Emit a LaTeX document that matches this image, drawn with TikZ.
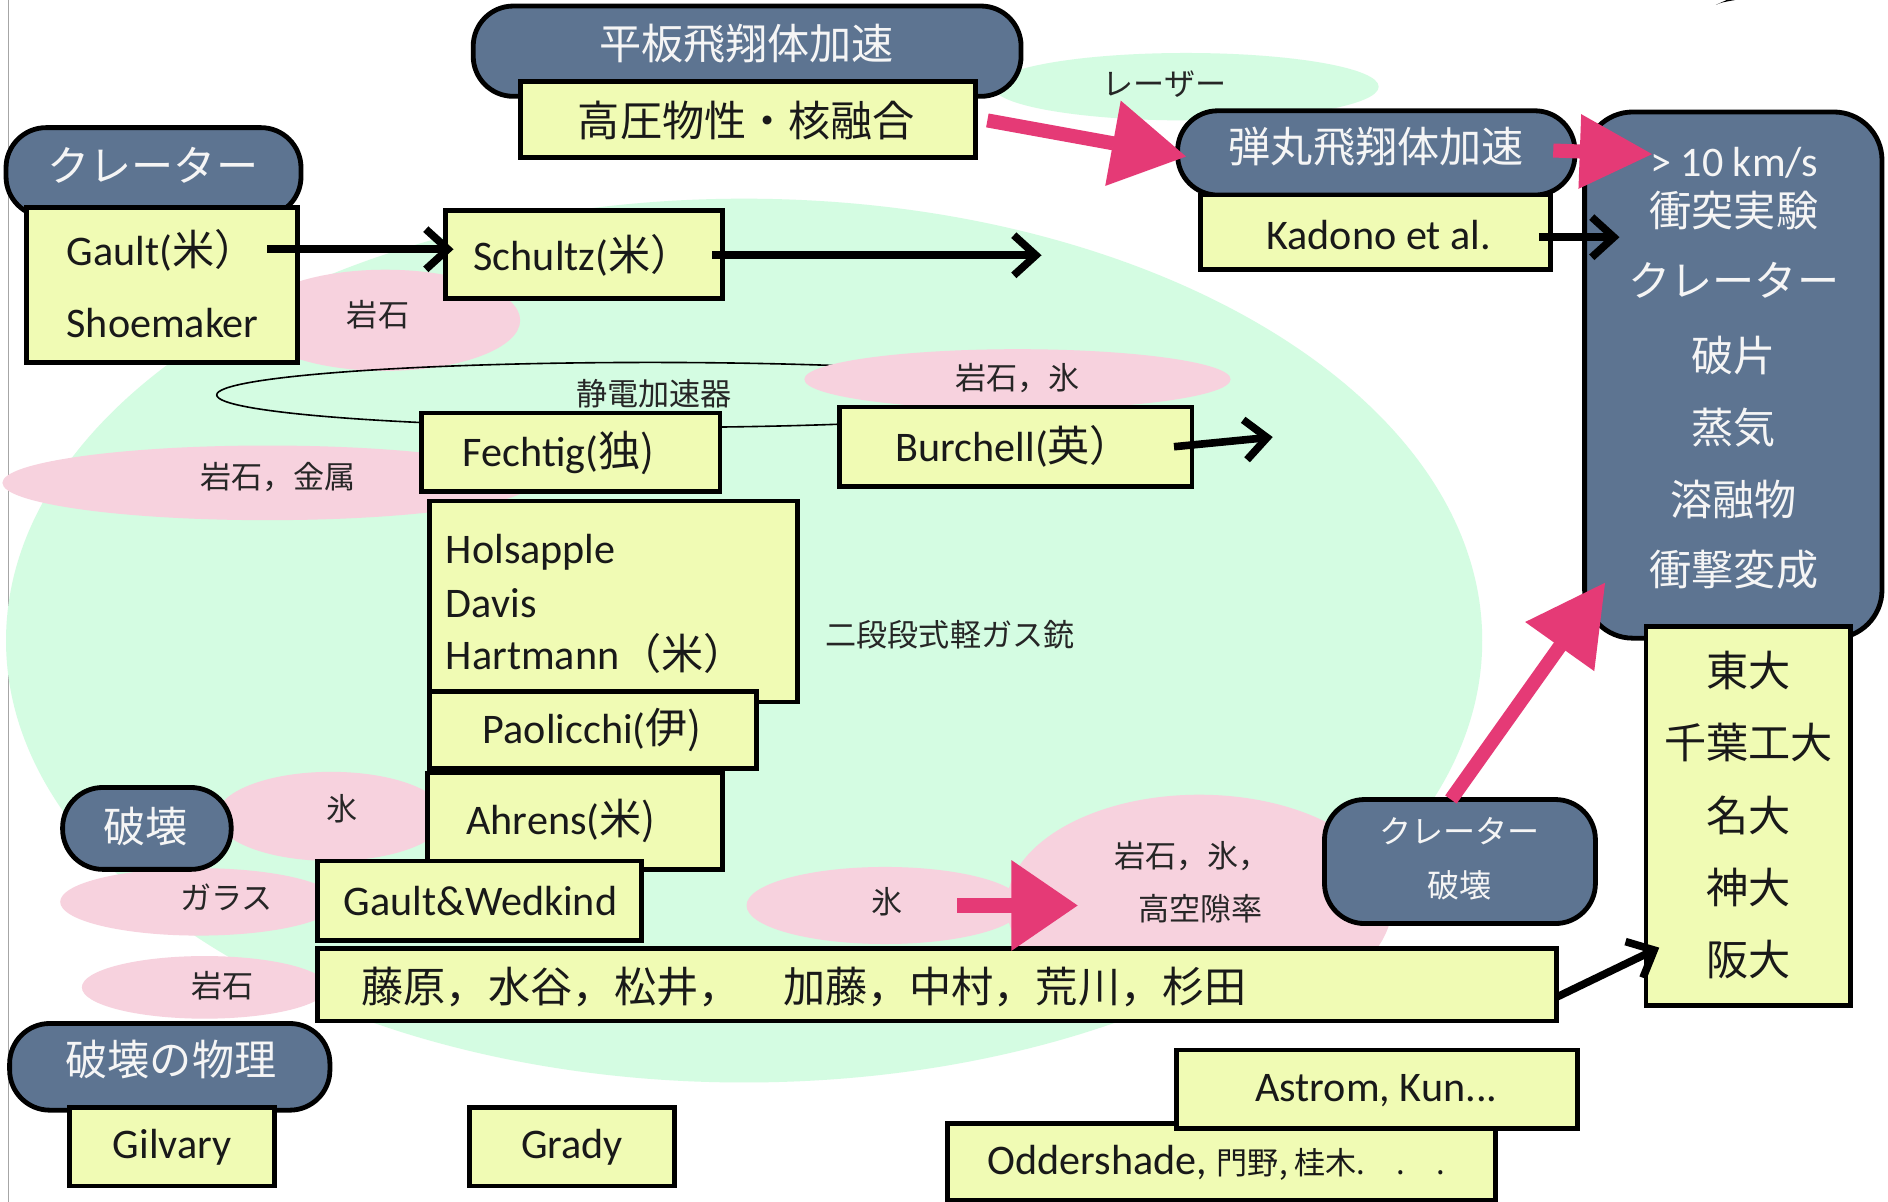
\documentclass[tikz,border=0pt]{standalone}
\usepackage{fontspec}
\setmainfont{Carlito}
\newfontfamily\cj{Noto Sans CJK JP}
\usetikzlibrary{arrows.meta}
\definecolor{hdr}{RGB}{93,116,145}
\definecolor{yel}{RGB}{240,251,180}
\definecolor{mint}{RGB}{212,252,226}
\definecolor{pinkel}{RGB}{247,210,222}
\definecolor{parrow}{RGB}{229,58,118}
\newcommand\upx{0.6pt}
\newcommand\bx[6]{\node[#1, minimum width={(#5-#3)*\upx}, minimum height={(#6-#4)*\upx}] (#2) at (#3,#4) {};}
\begin{document}
\begin{tikzpicture}[x=0.6pt, y=-0.6pt,
  ybox/.style={draw=black, line width=2.4pt, fill=yel, inner sep=0pt, outer sep=0pt, anchor=north west, rectangle},
  hbox/.style={draw=black, line width=2.4pt, fill=hdr, inner sep=0pt, outer sep=0pt, anchor=north west, rectangle, rounded corners=20pt},
  jbig/.style={inner sep=0pt, text=black!90, font=\cj\fontsize{21}{25}\selectfont},
  lbig/.style={inner sep=0pt, text=black!90, font=\fontsize{21}{25}\selectfont},
  jlab/.style={inner sep=0pt, font=\cj\fontsize{15.5}{19}\selectfont, text=black!85},
  wt/.style={text=white!96!black},
  blk/.style={draw=black, line width=3.8pt, -{Straight Barb[length=11pt, width=20pt]}},
  pk/.style={draw=parrow, line width=7pt, -{Triangle[length=36pt, width=42pt, line width=1pt]}},
]
\useasboundingbox (0,0) rectangle (1568,998);
\fill[white] (0,0) rectangle (1568,998);
\draw[gray!70, line width=0.9pt] (7,0) -- (7,998);
\fill (1425,4) .. controls (1430,2) .. (1441,0) -- (1434,0) -- cycle;

% background ellipses
\fill[mint] (985,72) ellipse [x radius=160, y radius=28];
\fill[mint] (618,532) ellipse [x radius=613, y radius=367];
\fill[pinkel] (320,266) ellipse [x radius=112, y radius=42];
\fill[pinkel] (222,401) ellipse [x radius=220, y radius=31];
\fill[pinkel] (275,678) ellipse [x radius=95, y radius=37];
\fill[pinkel] (165,749) ellipse [x radius=115, y radius=28];
\fill[pinkel] (170,820) ellipse [x radius=102, y radius=26];
\fill[pinkel] (996,752) ellipse [x radius=160, y radius=92];
\fill[pinkel] (735,752) ellipse [x radius=115, y radius=32];
\draw[black, line width=0.8pt] (540,328) ellipse [x radius=360, y radius=27];
\fill[pinkel] (845,315) ellipse [x radius=177, y radius=25];

% ellipse labels
\node[jlab] (l_laser) at (967,70) {レーザー};
\node[jlab] (l_gan1) at (314,261) {岩石};
\node[jlab] (l_sei) at (543,327) {静電加速器};
\node[jlab] (l_ganhyo) at (845,314) {岩石，氷};
\node[jlab] (l_kin) at (231,396) {岩石，金属};
\node[jlab] (l_gas) at (789,527) {二段段式軽ガス銃};
\node[jlab] (l_hyo1) at (284,672) {氷};
\node[jlab] (l_glass) at (188,745) {ガラス};
\node[jlab] (l_hyo2) at (737,749) {氷};
\node[jlab] (l_gh1) at (990,711) {岩石，氷，};
\node[jlab] (l_gh2) at (997,755) {高空隙率};
\node[jlab] (l_gan2) at (185,819) {岩石};

% header boxes
\bx{hbox}{H1}{393}{5}{848}{80}
\bx{hbox}{H2}{978}{92}{1308}{162}
\bx{hbox, rounded corners=24pt}{BIG}{1316}{93}{1563}{530}
\bx{hbox}{H3}{5}{106}{250}{180}
\bx{hbox}{HA}{52}{654}{192}{722}
\bx{hbox}{HCD}{1100}{664}{1325}{767}
\bx{hbox}{HPH}{8}{850}{274}{922}

% yellow boxes
\bx{ybox}{B1}{432}{68}{810}{131}
\bx{ybox}{B2}{997}{162}{1288}{224}
\bx{ybox}{UNI}{1367}{520}{1537}{835}
\bx{ybox}{B3}{22}{172}{247}{301}
\bx{ybox}{SCH}{370}{175}{600}{248}
\bx{ybox}{FEC}{350}{343}{598}{408}
\bx{ybox}{BUR}{697}{338}{990}{404}
\bx{ybox}{HOL}{357}{416}{662}{583}
\bx{ybox}{PAO}{357}{574}{628}{638}
\bx{ybox}{AHR}{355}{642}{600}{722}
\bx{ybox}{GW}{264}{715}{533}{781}
\bx{ybox}{LONG}{264}{788}{1293}{848}
\bx{ybox}{GIL}{58}{920}{228}{985}
\bx{ybox}{GRA}{390}{920}{560}{985}
\bx{ybox}{ODD}{787}{933}{1242}{997}
\bx{ybox}{AST}{977}{872}{1310}{937}

% header texts
\node[jbig, wt] (t_h1) at (620,36) {平板飛翔体加速};
\node[jbig, wt] (t_h2) at (1143,122) {弾丸飛翔体加速};
\node[jbig, wt] (t_h3) at (127,137) {クレーター};
\node[jbig, wt] (t_ha) at (121,686) {破壊};
\node[jbig, wt] (t_hph) at (142,880) {破壊の物理};
\node[jlab, wt, font=\cj\fontsize{16}{19}\selectfont] (t_hcd1) at (1212,690) {クレーター};
\node[jlab, wt, font=\cj\fontsize{16}{19}\selectfont] (t_hcd2) at (1212,735) {破壊};
\node[lbig, wt] (t_b1) at (1440,135) {> 10 km/s};
\node[jbig, wt] (t_b2) at (1440,175) {衝突実験};
\node[jbig, wt] (t_b3) at (1440,233) {クレーター};
\node[jbig, wt] (t_b4) at (1440,295) {破片};
\node[jbig, wt] (t_b5) at (1440,355) {蒸気};
\node[jbig, wt] (t_b6) at (1440,415) {溶融物};
\node[jbig, wt] (t_b7) at (1440,473) {衝撃変成};

% yellow box texts
\node[jbig] (t_kou) at (620,100) {高圧物性・核融合};
\node[lbig] (t_kad) at (1145,195) {Kadono et al.};
\node[jbig] (t_u1) at (1452,557) {東大};
\node[jbig] (t_u2) at (1452,617) {千葉工大};
\node[jbig] (t_u3) at (1452,677) {名大};
\node[jbig] (t_u4) at (1452,737) {神大};
\node[jbig] (t_u5) at (1452,797) {阪大};
\node[lbig, anchor=west] (t_gault) at (55,208) {Gault(\cj{米）}};
\node[lbig, anchor=west] (t_shoe) at (55,268) {Shoemaker};
\node[lbig, anchor=west] (t_sch) at (393,212) {Schultz(\cj{米）}};
\node[lbig] (t_bur) at (842,371) {Burchell(\cj{英）}};
\node[lbig] (t_fec) at (464,376) {Fechtig(\cj{独})};
\node[lbig, anchor=west] (t_hol1) at (370,459) {Holsapple};
\node[lbig, anchor=west] (t_hol2) at (370,501) {Davis};
\node[lbig, anchor=west] (t_hol3) at (370,543) {Hartmann\cj{（米）}};
\node[lbig] (t_pao) at (492,606) {Paolicchi(\cj{伊})};
\node[lbig] (t_ahr) at (466,682) {Ahrens(\cj{米})};
\node[lbig] (t_gw) at (399,748) {Gault\&Wedkind};
\node[jbig, anchor=west] (t_long) at (300,820) {藤原，水谷，松井，　加藤，中村，荒川，杉田};
\node[lbig] (t_gil) at (143,953) {Gilvary};
\node[lbig] (t_gra) at (475,953) {Grady};
\node[lbig] (t_ast) at (1143,906) {Astrom, Kun...};
\node[lbig, anchor=west] (t_odd) at (820,966) {Oddershade, {\cj\fontsize{15.5}{18}\selectfont 門野, 桂木.　.　.}};

% black arrows
\draw[blk] (222,207) -- ([xshift=4pt]SCH.west |- 0,207);
\draw[blk] ([xshift=-5pt]SCH.east |- t_sch.east) -- (865,212);
\draw[blk] ([xshift=-9pt]BUR.east |- t_bur.east) -- (1057,363);
\draw[blk] ([xshift=-6pt]B2.east |- 0,197) -- (1345,197);
\coordinate (uni_in) at (1378,787);
\draw[blk] (LONG.east |- 0,828) -- (uni_in);

% pink arrows
\coordinate (p1s) at (820,100);
\coordinate (p1e) at (985,130);
\draw[pk, -{Triangle[length=37pt, width=43pt, line width=1pt]}] (p1s) -- (p1e);
\coordinate (p2s) at (1290,125);
\coordinate (p2e) at (1372,128);
\draw[pk, -{Triangle[length=36pt, width=37pt, line width=1pt]}] (p2s) -- (p2e);
\coordinate (p3s) at (795,752);
\coordinate (p3e) at (895,752);
\draw[pk, -{Triangle[length=33pt, width=45pt, line width=1pt]}] (p3s) -- (p3e);
\coordinate (p4e) at (1333,484);
\draw[pk, -{Triangle[length=39pt, width=42pt, line width=1pt]}] ([xshift=63pt]HCD.north west) -- (p4e);
\end{tikzpicture}
\end{document}
